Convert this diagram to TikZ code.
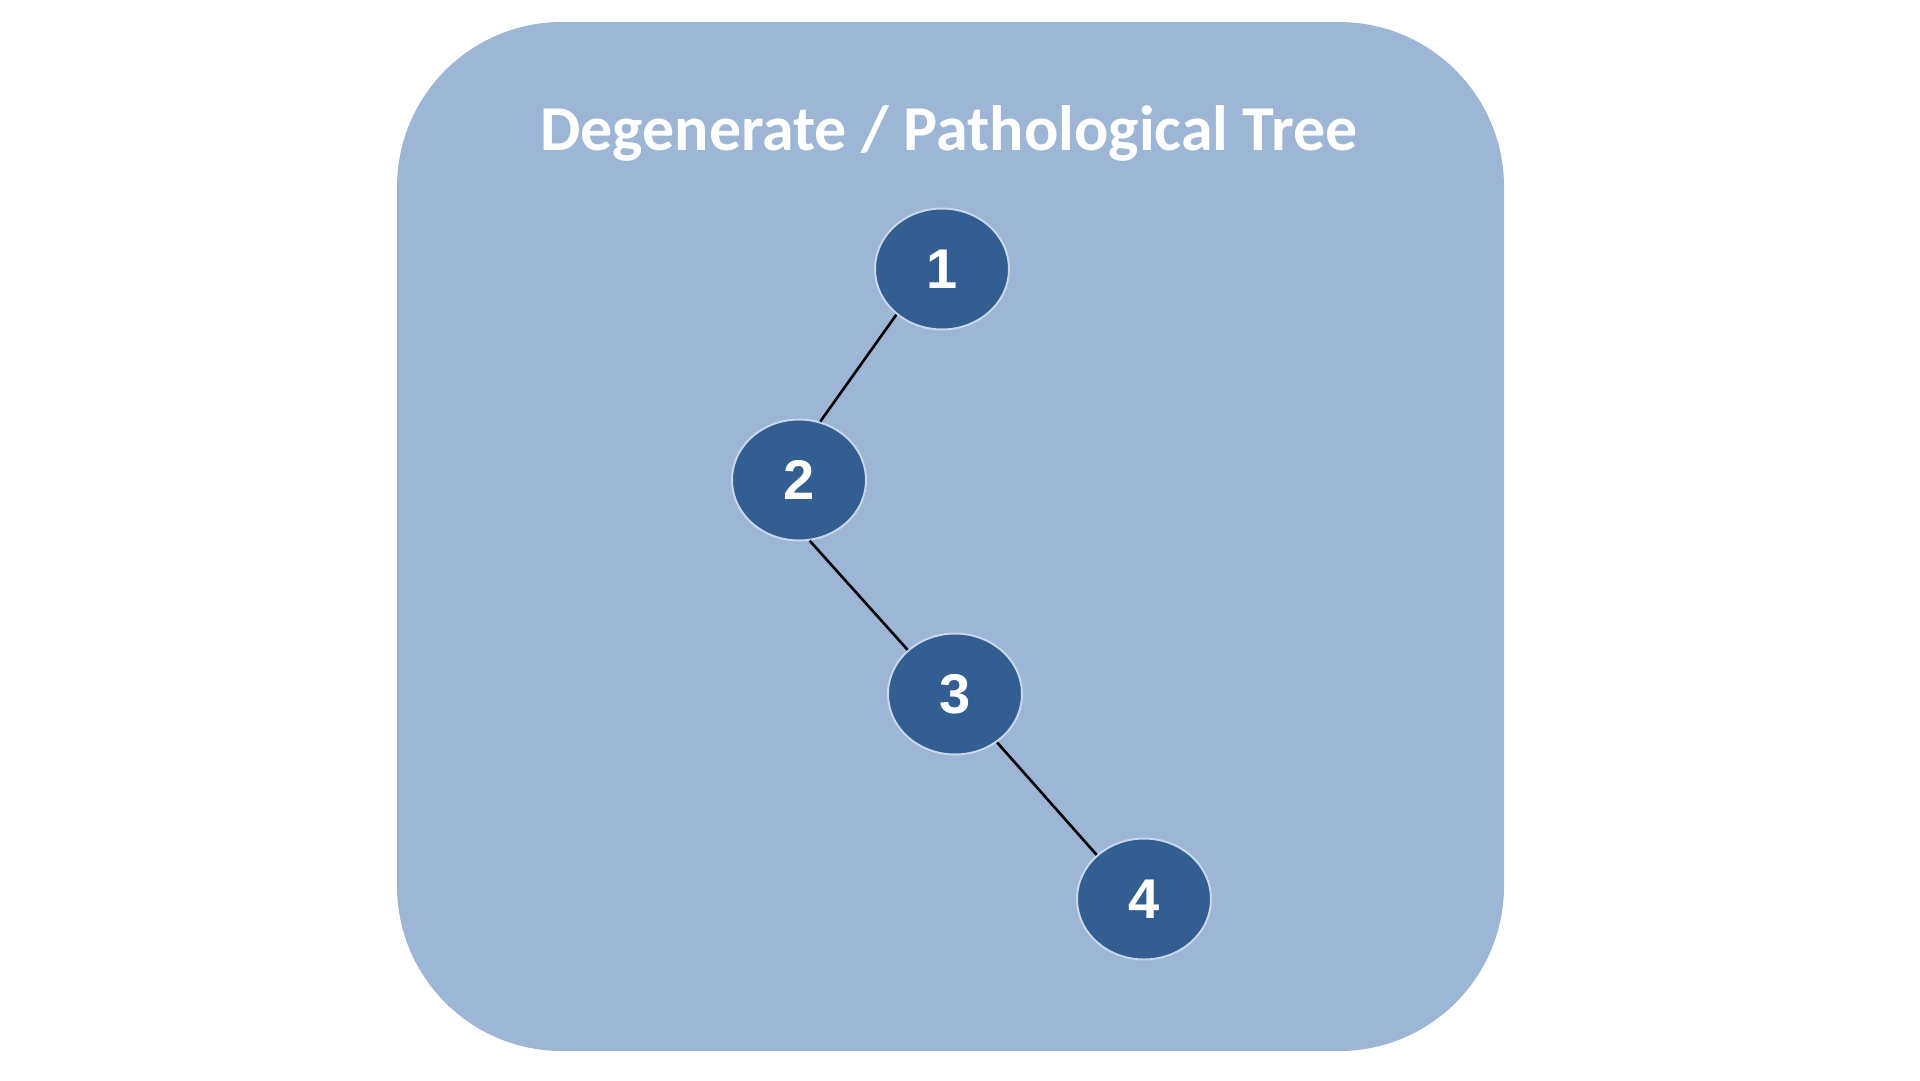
\documentclass[tikz,border=0pt]{standalone}
\usepackage{fontspec}
\usetikzlibrary{shapes.geometric}
\setmainfont{Carlito}
\newfontfamily\digitfont{Liberation Sans}
\definecolor{panel}{HTML}{9DB6D6}
\definecolor{nodefill}{HTML}{335E92}
\definecolor{nodeedge}{HTML}{C8D7EB}
\begin{document}
\begin{tikzpicture}[x=1pt,y=-1pt,
  treenode/.style={ellipse, draw=nodeedge, line width=2pt, fill=nodefill,
    minimum width=134pt, minimum height=121pt, inner sep=0pt,
    text=white, font=\digitfont\bfseries\fontsize{56}{56}\selectfont},
  edge/.style={draw=black, line width=2.6pt}]
\useasboundingbox (0,0) rectangle (1920,1080);
\fill[white] (0,0) rectangle (1920,1080);
\fill[panel, rounded corners=165pt] (397,22) rectangle (1504,1051);
\node[text=white, font=\bfseries\fontsize{64}{64}\selectfont, anchor=base] (title) at (949,150) {Degenerate / Pathological Tree};
\node[treenode] (n1) at (942,269) {1};
\node[treenode] (n2) at (799,480) {2};
\node[treenode] (n3) at (955,694) {3};
\node[treenode] (n4) at (1144,899) {4};
\draw[edge] (n1.225) -- (n2.70);
\draw[edge] (n2.280) -- (n3.137);
\draw[edge] (n3.311) -- (n4.137);
\end{tikzpicture}
\end{document}
